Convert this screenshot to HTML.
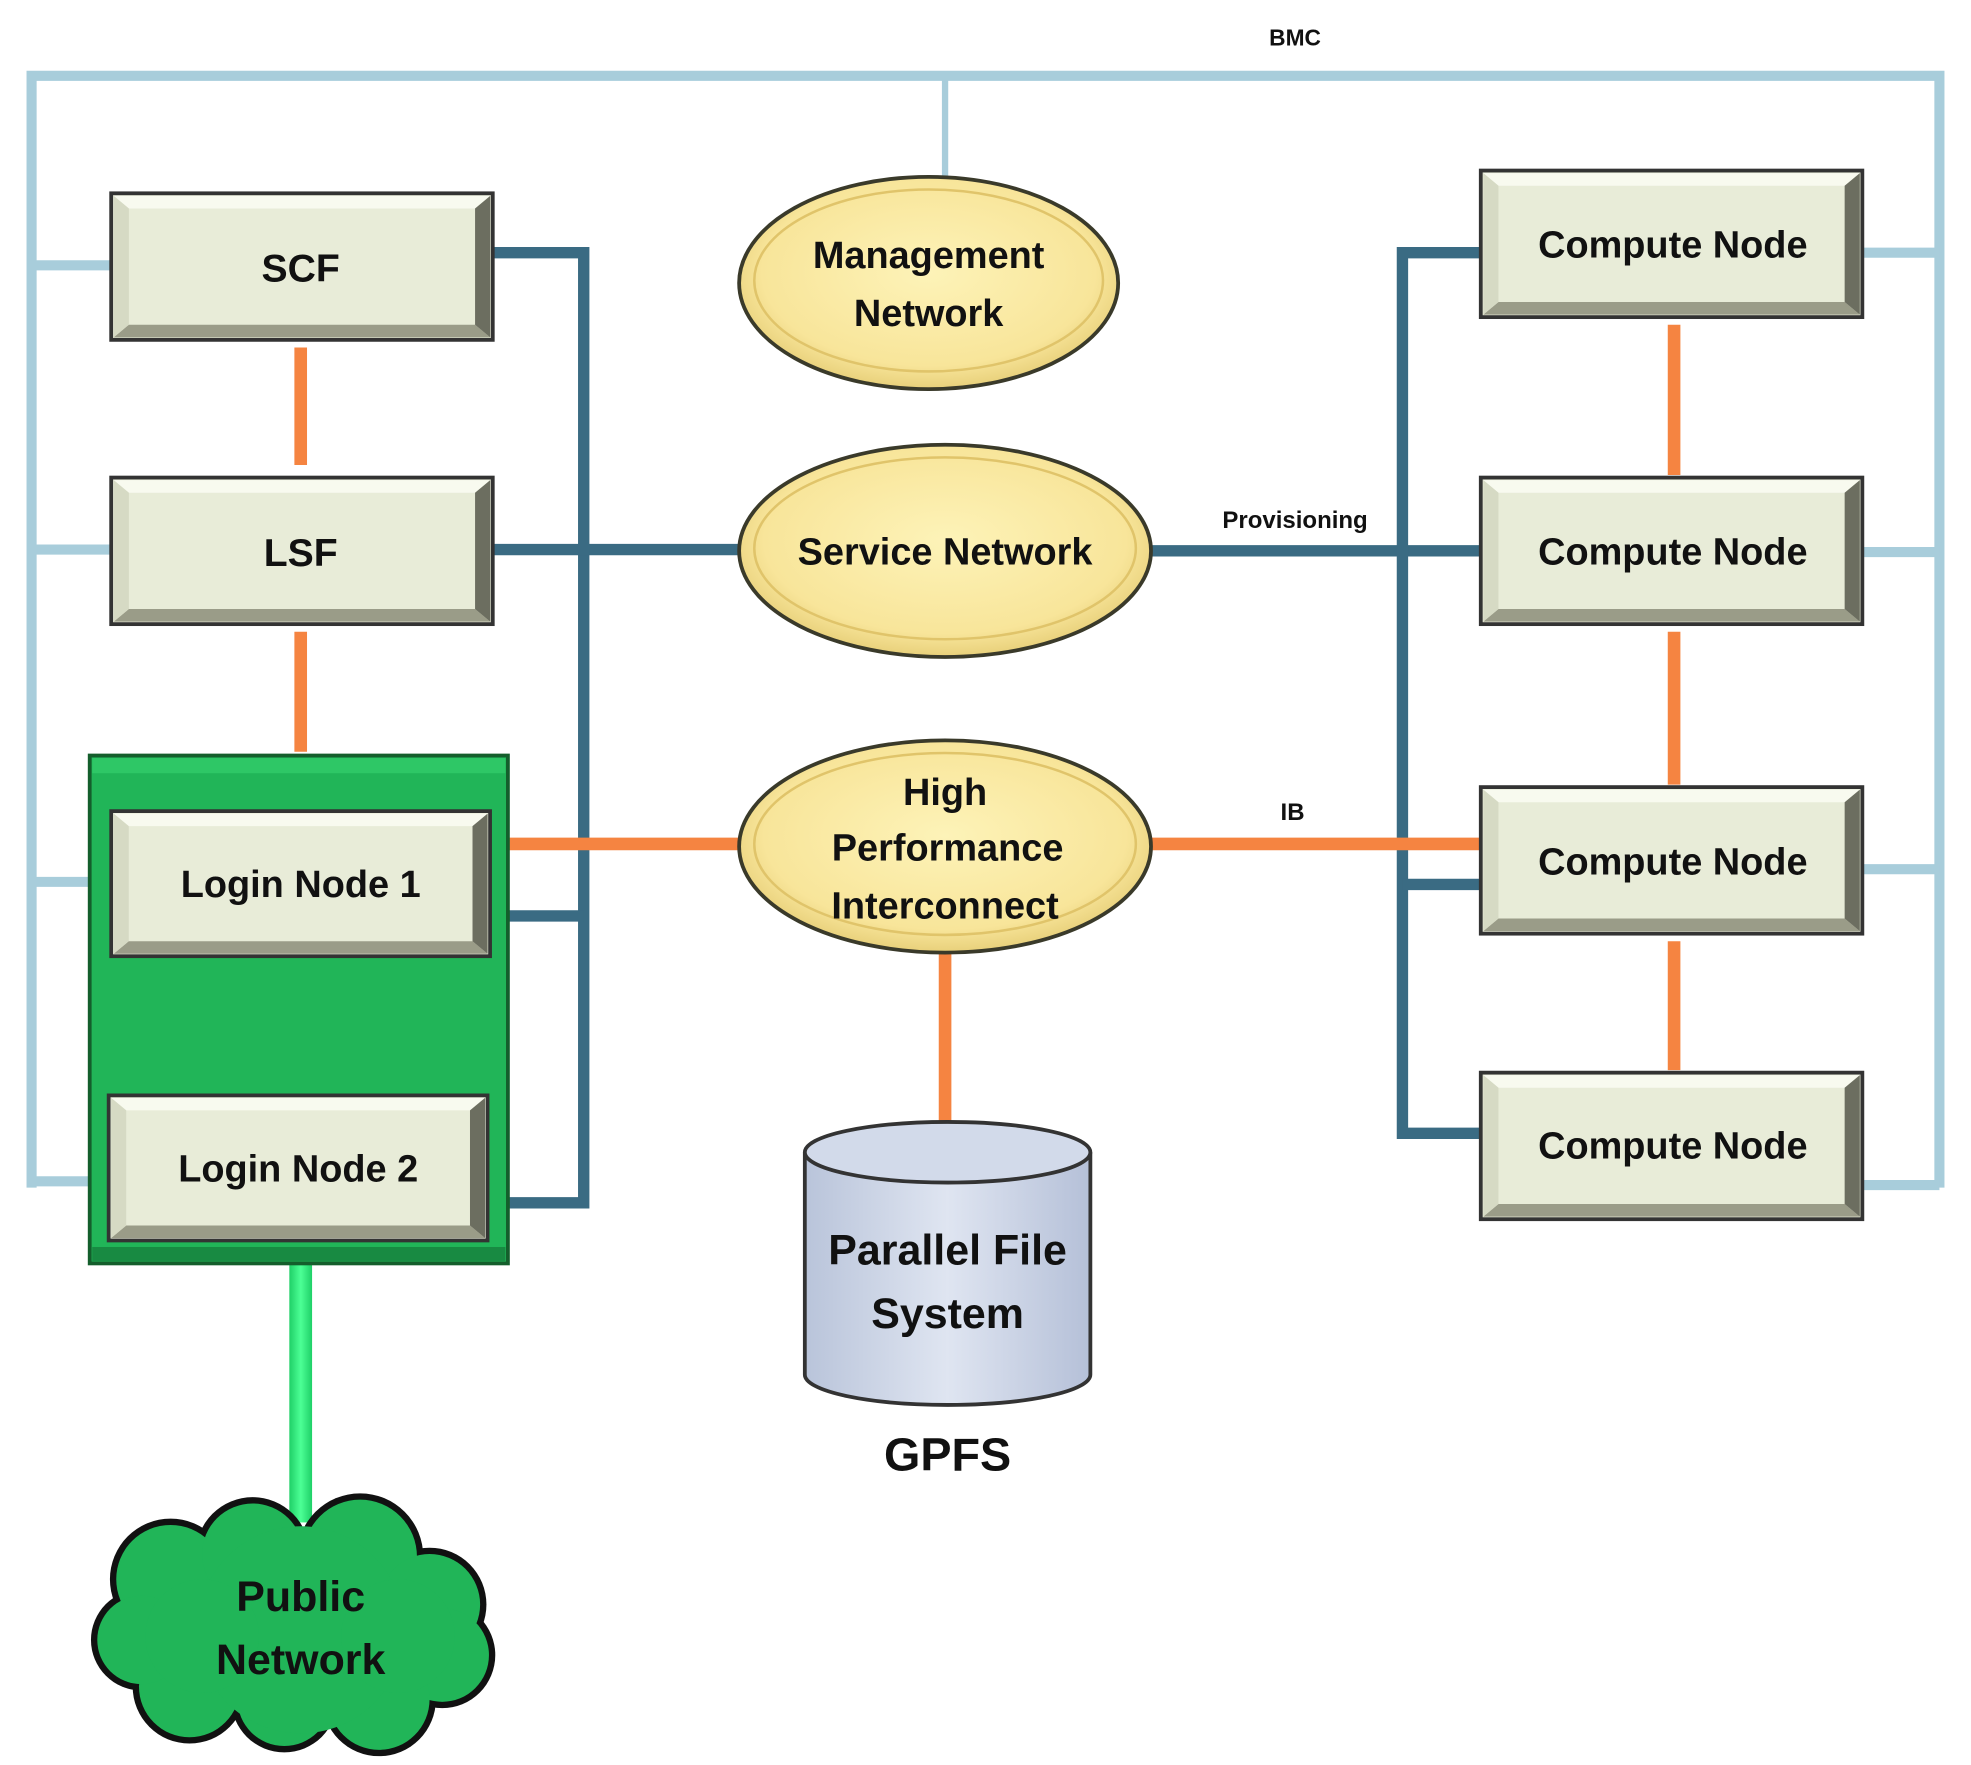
<!DOCTYPE html>
<html><head><meta charset="utf-8"><style>
html,body{margin:0;padding:0;background:#fff;}
svg{display:block;}
text{font-family:"Liberation Sans",sans-serif;font-weight:bold;fill:#111;}
</style></head><body>
<svg width="1971" height="1765" viewBox="0 0 1560 1397" preserveAspectRatio="none" xmlns="http://www.w3.org/2000/svg">
<defs>
<radialGradient id="ell" cx="50%" cy="45%" r="55%">
<stop offset="0" stop-color="#fdf3b8"/><stop offset="0.8" stop-color="#f8e59a"/><stop offset="1" stop-color="#e8d07a"/>
</radialGradient>
<linearGradient id="cyl" x1="0" x2="1">
<stop offset="0" stop-color="#b9c4da"/><stop offset="0.5" stop-color="#dfe5f1"/><stop offset="1" stop-color="#b5c0d8"/>
</linearGradient>
<linearGradient id="gl" x1="0" x2="1">
<stop offset="0" stop-color="#1fd067"/><stop offset="0.5" stop-color="#4cff95"/><stop offset="1" stop-color="#1fd067"/>
</linearGradient>
<g id="box">
<rect x="0" y="0" width="302" height="116" fill="#e8ecd8" stroke="#333" stroke-width="3"/>
<polygon points="2,2 300,2 288,12 14,12" fill="#f8faef"/>
<polygon points="2,114 300,114 288,104 14,104" fill="#9a9c88"/>
<polygon points="300,2 300,114 288,104 288,12" fill="#6c6e60"/>
<polygon points="2,2 2,114 14,104 14,12" fill="#d6dac4"/>
</g>
</defs>

<g stroke="#a8cddb" stroke-width="8" fill="none">
<polyline points="25,940 25,60 1535,60 1535,940"/>
<line x1="748" y1="60" x2="748" y2="142" stroke-width="5"/>
<line x1="25" y1="210" x2="88" y2="210"/>
<line x1="25" y1="435" x2="88" y2="435"/>
<line x1="25" y1="698" x2="72" y2="698"/>
<line x1="25" y1="935" x2="72" y2="935"/>
<line x1="1473" y1="200" x2="1535" y2="200"/>
<line x1="1473" y1="437" x2="1535" y2="437"/>
<line x1="1473" y1="688" x2="1535" y2="688"/>
<line x1="1473" y1="938" x2="1535" y2="938"/>
</g>
<text x="1025" y="36" font-size="18" text-anchor="middle">BMC</text>

<g stroke="#3a6b83" stroke-width="9" fill="none">
<polyline points="390,200 462,200 462,952 402,952"/>
<line x1="390" y1="435" x2="590" y2="435"/>
<line x1="402" y1="725" x2="462" y2="725"/>
<line x1="910" y1="436" x2="1172" y2="436"/>
<polyline points="1172,200 1110,200 1110,897 1172,897"/>
<line x1="1110" y1="700" x2="1172" y2="700"/>
</g>
<text x="1025" y="418" font-size="19" text-anchor="middle">Provisioning</text>

<g stroke="#f58441" stroke-width="10" fill="none">
<line x1="238" y1="275" x2="238" y2="368"/>
<line x1="238" y1="500" x2="238" y2="595"/>
<line x1="238" y1="760" x2="238" y2="865"/>
<line x1="402" y1="668" x2="590" y2="668"/>
<line x1="910" y1="668" x2="1172" y2="668"/>
<line x1="748" y1="755" x2="748" y2="888"/>
<line x1="1325" y1="257" x2="1325" y2="376"/>
<line x1="1325" y1="500" x2="1325" y2="621"/>
<line x1="1325" y1="745" x2="1325" y2="847"/>
</g>
<text x="1023" y="649" font-size="19" text-anchor="middle">IB</text>

<rect x="229" y="1000" width="18" height="205" fill="url(#gl)"/>

<use href="#box" x="88" y="153"/>
<text x="238" y="223" font-size="31" text-anchor="middle">SCF</text>
<use href="#box" x="88" y="378"/>
<text x="238" y="448" font-size="31" text-anchor="middle">LSF</text>

<rect x="71" y="598" width="331" height="402" fill="#21b558" stroke="#145e2c" stroke-width="3"/>
<rect x="73" y="600" width="327" height="12" fill="#2ec766"/>
<rect x="73" y="987" width="327" height="11" fill="#188a42"/>
<use href="#box" x="88" y="642" transform="translate(88 642) scale(0.993 0.99) translate(-88 -642)"/>
<text x="238" y="710" font-size="30" text-anchor="middle">Login Node 1</text>
<use href="#box" x="86" y="867" transform="translate(86 867) scale(0.993 0.99) translate(-86 -867)"/>
<text x="236" y="935" font-size="30" text-anchor="middle">Login Node 2</text>

<use href="#box" x="1172" y="135"/>
<text x="1324" y="204" font-size="30" text-anchor="middle">Compute Node</text>
<use href="#box" x="1172" y="378"/>
<text x="1324" y="447" font-size="30" text-anchor="middle">Compute Node</text>
<use href="#box" x="1172" y="623"/>
<text x="1324" y="692" font-size="30" text-anchor="middle">Compute Node</text>
<use href="#box" x="1172" y="849"/>
<text x="1324" y="917" font-size="30" text-anchor="middle">Compute Node</text>

<g stroke="#3a3a2a" stroke-width="3">
<ellipse cx="735" cy="224" rx="150" ry="84" fill="url(#ell)"/>
<ellipse cx="748" cy="436" rx="163" ry="84" fill="url(#ell)"/>
<ellipse cx="748" cy="670" rx="163" ry="84" fill="url(#ell)"/>
</g>
<g fill="none" stroke="#e0c46a" stroke-width="2">
<ellipse cx="735" cy="222" rx="138" ry="72"/>
<ellipse cx="748" cy="434" rx="151" ry="72"/>
<ellipse cx="748" cy="668" rx="151" ry="72"/>
</g>
<text x="735" y="212" font-size="30" text-anchor="middle">Management</text>
<text x="735" y="258" font-size="30" text-anchor="middle">Network</text>
<text x="748" y="447" font-size="30" text-anchor="middle">Service Network</text>
<text x="748" y="637" font-size="30" text-anchor="middle">High</text>
<text x="750" y="681" font-size="30" text-anchor="middle">Performance</text>
<text x="748" y="727" font-size="30" text-anchor="middle">Interconnect</text>

<path d="M637,912 L637,1088 A113,24 0 0 0 863,1088 L863,912" fill="url(#cyl)" stroke="#333" stroke-width="3"/>
<ellipse cx="750" cy="912" rx="113" ry="24" fill="#d2daea" stroke="#333" stroke-width="3"/>
<text x="750" y="1001" font-size="34" text-anchor="middle">Parallel File</text>
<text x="750" y="1051" font-size="34" text-anchor="middle">System</text>
<text x="750" y="1164" font-size="37" text-anchor="middle">GPFS</text>

<g fill="#111">
<circle cx="135" cy="1250" r="48"/><circle cx="200" cy="1230" r="45"/><circle cx="285" cy="1232" r="50"/>
<circle cx="340" cy="1270" r="45"/><circle cx="350" cy="1310" r="42"/><circle cx="300" cy="1345" r="45"/>
<circle cx="225" cy="1345" r="42"/><circle cx="150" cy="1335" r="45"/><circle cx="112" cy="1298" r="40"/>
</g>
<g fill="#21b558">
<circle cx="135" cy="1250" r="43"/><circle cx="200" cy="1230" r="40"/><circle cx="285" cy="1232" r="45"/>
<circle cx="340" cy="1270" r="40"/><circle cx="350" cy="1310" r="37"/><circle cx="300" cy="1345" r="40"/>
<circle cx="225" cy="1345" r="37"/><circle cx="150" cy="1335" r="40"/><circle cx="112" cy="1298" r="35"/>
<circle cx="238" cy="1290" r="82"/><circle cx="160" cy="1295" r="45"/><circle cx="315" cy="1295" r="45"/>
</g>
<text x="238" y="1275" font-size="34" text-anchor="middle">Public</text>
<text x="238" y="1325" font-size="34" text-anchor="middle">Network</text>
</svg>
</body></html>
